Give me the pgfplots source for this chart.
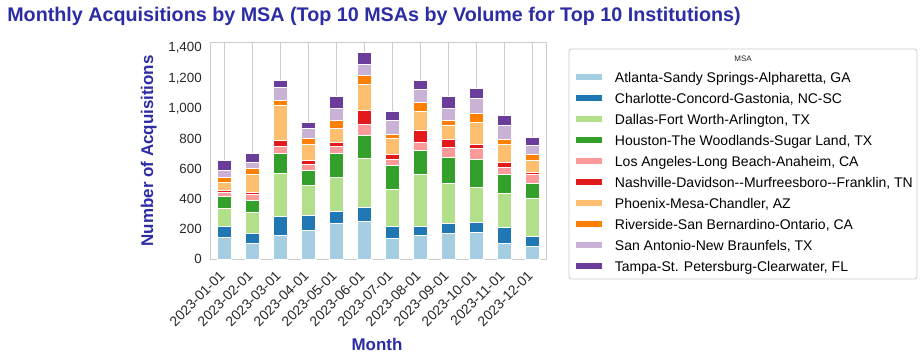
\documentclass[border=0pt]{standalone}
\usepackage{pgfplots}
\pgfplotsset{compat=1.18}
\usepackage{fontspec}
\setmainfont{Liberation Sans}
\definecolor{c1}{HTML}{A6CEE3}
\definecolor{c2}{HTML}{1F78B4}
\definecolor{c3}{HTML}{B2DF8A}
\definecolor{c4}{HTML}{33A02C}
\definecolor{c5}{HTML}{FB9A99}
\definecolor{c6}{HTML}{E31A1C}
\definecolor{c7}{HTML}{FDBF6F}
\definecolor{c8}{HTML}{FF7F00}
\definecolor{c9}{HTML}{CAB2D6}
\definecolor{c10}{HTML}{6A3D9A}
\definecolor{ttl}{RGB}{44,44,165}
\definecolor{gridc}{HTML}{CCCCCC}
\definecolor{tickc}{HTML}{262626}
\pgfplotsset{myleg/.style={legend image code/.code={\fill[##1] (0pt,-2.6pt) rectangle (20pt,2.6pt);}}}
\begin{document}
\begin{tikzpicture}
\path[use as bounding box] (0,0) rectangle (693pt,-271.5pt);
\begin{axis}[
  at={(157.5pt,-194.25pt)}, anchor=south west,
  scale only axis, width=252pt, height=162.4pt,
  ybar stacked, bar width=0.5,
  xmin=-0.5, xmax=11.5, ymin=0, ymax=1438,
  xtick={0,...,11},
  xticklabels={2023-01-01,2023-02-01,2023-03-01,2023-04-01,2023-05-01,2023-06-01,2023-07-01,2023-08-01,2023-09-01,2023-10-01,2023-11-01,2023-12-01},
  ytick={0,200,...,1400},
  /pgf/number format/1000 sep={,},
  /pgf/number format/assume math mode=true,
  xmajorgrids, ymajorgrids=false,
  grid style={gridc, line width=0.75pt},
  axis line style={gridc, line width=0.75pt},
  major tick length=0pt,
  tick label style={color=tickc},
  yticklabel style={font=\fontsize{10}{11}\selectfont, inner sep=0pt, xshift=-6pt},
  xticklabel style={font=\fontsize{10.4}{11}\selectfont, inner sep=0pt, xshift=-4pt, yshift=-8pt, rotate=45, anchor=north east},
  legend style={at={(1.0863,0.889)}, anchor=north west, draw=none, fill=none,
    font=\fontsize{10.5}{12}\selectfont, inner sep=0pt, row sep=0pt, column sep=9pt,
    nodes={inner sep=0pt, text height=11.6pt, text depth=4.15pt}},
  legend cell align=left,
  every axis plot/.append style={draw=white, line width=0.75pt, myleg},
]
\addplot[fill=c1, myleg] coordinates {(0,146) (1,106) (2,155) (3,190) (4,239) (5,246) (6,133) (7,153) (8,171) (9,177) (10,106) (11,84)};
\addlegendentry{Atlanta-Sandy Springs-Alpharetta, GA}
\addplot[fill=c2, myleg] coordinates {(0,69) (1,65) (2,129) (3,100) (4,78) (5,97) (6,80) (7,64) (8,64) (9,64) (10,104) (11,67)};
\addlegendentry{Charlotte-Concord-Gastonia, NC-SC}
\addplot[fill=c3, myleg] coordinates {(0,122) (1,139) (2,285) (3,200) (4,226) (5,322) (6,250) (7,343) (8,268) (9,237) (10,226) (11,252)};
\addlegendentry{Dallas-Fort Worth-Arlington, TX}
\addplot[fill=c4, myleg] coordinates {(0,79) (1,80) (2,133) (3,99) (4,159) (5,155) (6,155) (7,162) (8,173) (9,184) (10,127) (11,98)};
\addlegendentry{Houston-The Woodlands-Sugar Land, TX}
\addplot[fill=c5, myleg] coordinates {(0,27) (1,40) (2,42) (3,40) (4,42) (5,75) (6,40) (7,49) (8,62) (9,69) (10,48) (11,57)};
\addlegendentry{Los Angeles-Long Beach-Anaheim, CA}
\addplot[fill=c6, myleg] coordinates {(0,13) (1,13) (2,45) (3,27) (4,29) (5,91) (6,38) (7,82) (8,57) (9,29) (10,29) (11,16)};
\addlegendentry{Nashville-Davidson-{}-Murfreesboro-{}-Franklin, TN}
\addplot[fill=c7, myleg] coordinates {(0,53) (1,120) (2,228) (3,102) (4,91) (5,170) (6,101) (7,128) (8,89) (9,148) (10,118) (11,77)};
\addlegendentry{Phoenix-Mesa-Chandler, AZ}
\addplot[fill=c8, myleg] coordinates {(0,34) (1,37) (2,37) (3,44) (4,57) (5,60) (6,29) (7,60) (8,37) (9,60) (10,37) (11,42)};
\addlegendentry{Riverside-San Bernardino-Ontario, CA}
\addplot[fill=c9, myleg] coordinates {(0,46) (1,40) (2,87) (3,62) (4,80) (5,73) (6,95) (7,86) (8,80) (9,100) (10,93) (11,62)};
\addlegendentry{San Antonio-New Braunfels, TX}
\addplot[fill=c10, myleg] coordinates {(0,62) (1,58) (2,42) (3,42) (4,75) (5,80) (6,58) (7,56) (8,75) (9,64) (10,62) (11,49)};
\addlegendentry{Tampa-St. Petersburg-Clearwater, FL}
\end{axis}
\draw[gridc, line width=0.6pt, rounded corners=2pt] (426.75pt,-36.75pt) rectangle (687.75pt,-209.25pt);
\node[font=\fontsize{6}{7}\selectfont, color=tickc, inner sep=0pt] at (557.25pt,-44.25pt) {MSA};
\node[anchor=base west, inner sep=0pt, font=\fontsize{14.8}{16}\selectfont\bfseries, color=ttl] at (5.25pt,-15.75pt) {Monthly Acquisitions by MSA (Top 10 MSAs by Volume for Top 10 Institutions)};
\node[rotate=90, anchor=base, inner sep=0pt, font=\fontsize{12.7}{15}\selectfont\bfseries, color=ttl] at (114.75pt,-113.06pt) {Number of Acquisitions};
\node[anchor=base, inner sep=0pt, font=\fontsize{12.7}{15}\selectfont\bfseries, color=ttl] at (282.75pt,-262.5pt) {Month};
\end{tikzpicture}
\end{document}
